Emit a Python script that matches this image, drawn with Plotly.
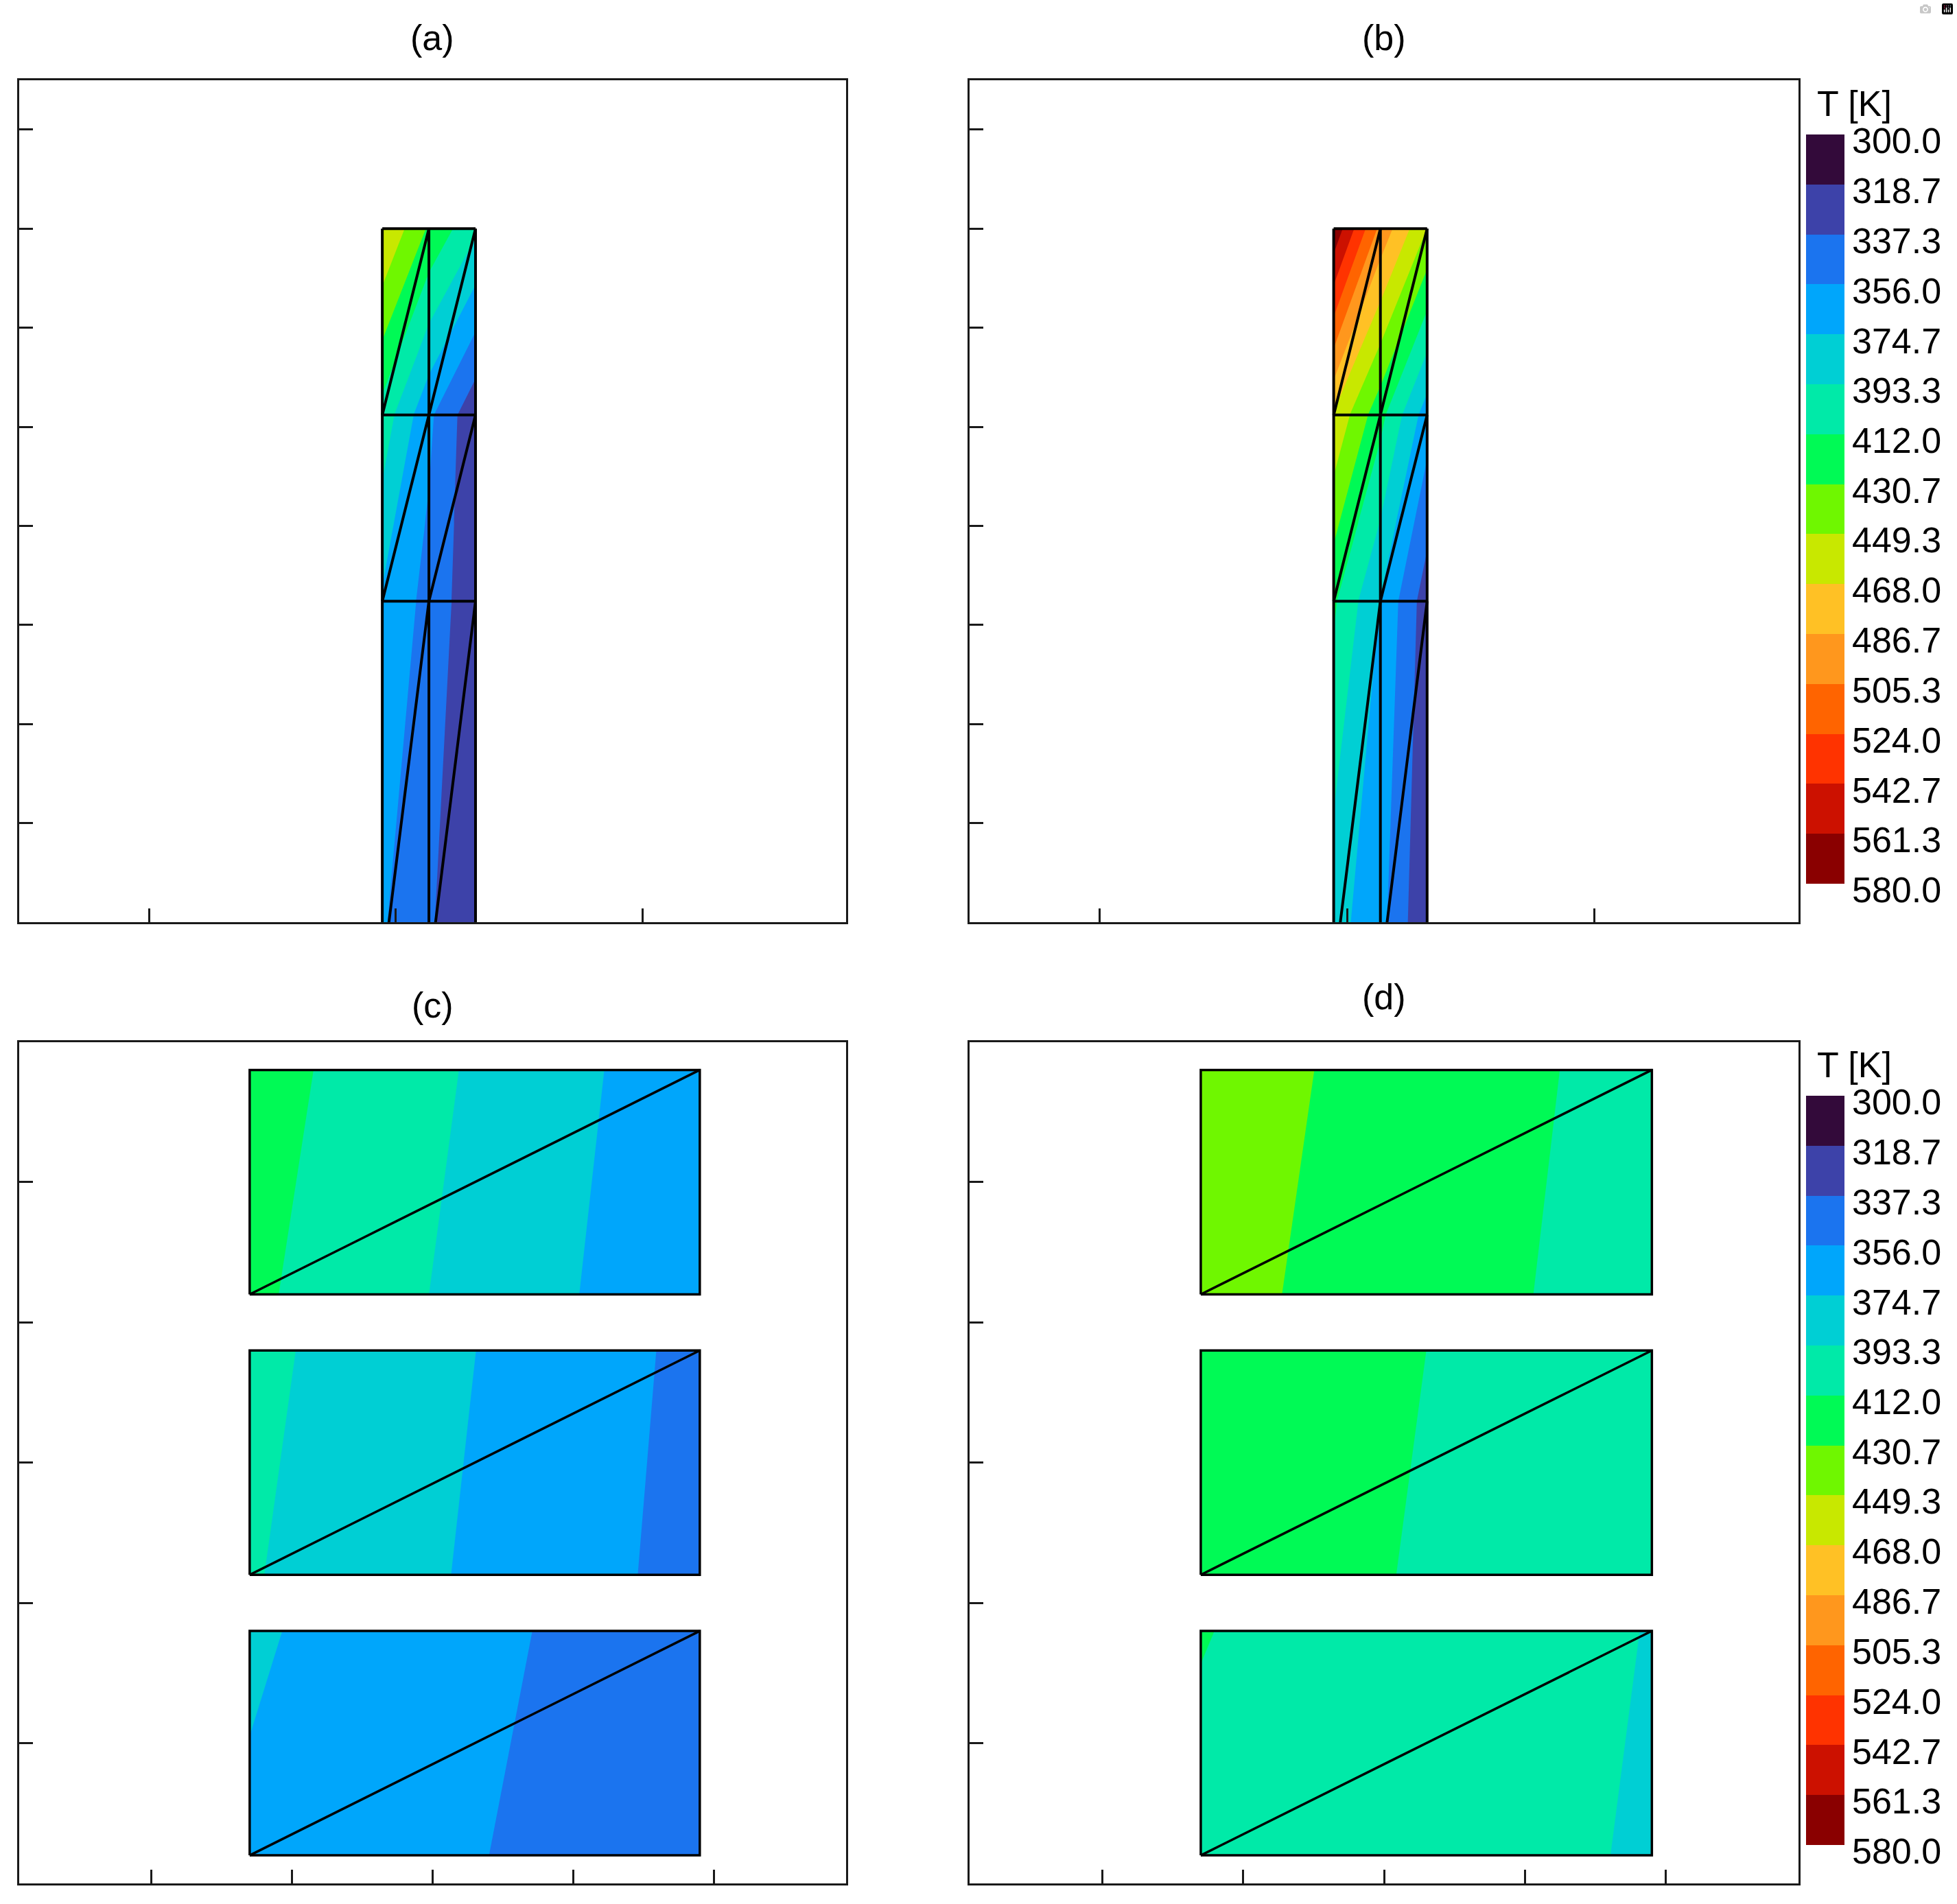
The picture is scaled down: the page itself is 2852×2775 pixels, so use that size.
import plotly.graph_objects as go

# ---------------- data ----------------
level_values = [300.0, 318.7, 337.3, 356.0, 374.7, 393.3, 412.0, 430.7,
                449.3, 468.0, 486.7, 505.3, 524.0, 542.7, 561.3, 580.0]
level_labels = ["300.0", "318.7", "337.3", "356.0", "374.7", "393.3", "412.0", "430.7",
                "449.3", "468.0", "486.7", "505.3", "524.0", "542.7", "561.3", "580.0"]
band_colors = ["#330a3a", "#3d42a9", "#1b74ef", "#00a6fb", "#00cfd4", "#00eaa8",
               "#00fa55", "#6ff700", "#c8e800", "#ffc125", "#ff971d", "#ff6400",
               "#ff3300", "#cc1100", "#8a0000"]
panel_titles = ["(a)", "(b)", "(c)", "(d)"]
cbar_title = "T [K]"

# (a), (b): column mesh (2 x 3 elements), node temperatures [K]
col_x = [1.946, 2.135, 2.324]
elem_y = [-0.54, 3.24, 5.12, 7.0]
field_y = [0.0, 3.24, 5.12, 7.0]
T_a = [[358, 340, 319],
       [372, 350, 324],
       [405, 360, 323],
       [469, 428, 397]]
T_b = [[382, 362, 320],
       [415, 374, 327],
       [466, 418, 365],
       [576, 500, 449]]

# (c), (d): three rectangular layers, corner temperatures [K] (bottom row, top row)
rect_x = [1.7, 4.9]
rect_y = [[0.2, 1.8], [2.2, 3.8], [4.2, 5.8]]
T_c = [[[371.9, 342.0], [377.1, 343.5]],
       [[394.8, 349.8], [398.1, 351.5]],
       [[415.6, 359.7], [420.2, 362.4]]]
T_d = [[[408.5, 391.8], [412.6, 392.8]],
       [[425.0, 395.0], [427.0, 397.0]],
       [[436.7, 403.2], [439.3, 405.0]]]

# ---------------- styling ----------------
FONT = "Liberation Sans, Arial, sans-serif"
T_MIN, T_MAX, N_B = level_values[0], level_values[-1], len(band_colors)
STEP = (T_MAX - T_MIN) / N_B

# contour fill colorscale: band k is sampled by plotly at s = (k+1)/N_B
cs_cont = []
for k, c in enumerate(band_colors):
    lo = 0.0 if k == 0 else (k + 0.5) / N_B
    hi = 1.0 if k == N_B - 1 else (k + 1.5) / N_B
    cs_cont += [[lo, c], [hi, c]]
# colorbar colorscale
cs_bar = []
for k, c in enumerate(band_colors):
    cs_bar += [[k / N_B, c], [(k + 1) / N_B, c]]

contours = dict(start=T_MIN, end=T_MAX + STEP / 2, size=STEP,
                coloring="fill", showlines=False)

fig = go.Figure()


def add_contour(x, y, z, xa, ya):
    fig.add_trace(go.Contour(x=x, y=y, z=z, xaxis=xa, yaxis=ya,
                             autocontour=False, contours=contours,
                             colorscale=cs_cont, zmin=T_MIN, zmax=T_MAX,
                             showscale=False, line=dict(width=0, smoothing=0),
                             hoverinfo="skip"))


def add_lines(xs, ys, xa, ya, w=4):
    fig.add_trace(go.Scatter(x=xs, y=ys, xaxis=xa, yaxis=ya, mode="lines",
                             line=dict(color="black", width=w),
                             hoverinfo="skip", showlegend=False))


def column_mesh(xa, ya):
    xs, ys = [], []
    for x in col_x:
        xs += [x, x, None]
        ys += [elem_y[0], elem_y[-1], None]
    for y in elem_y:
        xs += [col_x[0], col_x[-1], None]
        ys += [y, y, None]
    for i in range(len(elem_y) - 1):
        for j in range(len(col_x) - 1):
            xs += [col_x[j], col_x[j + 1], None]
            ys += [elem_y[i], elem_y[i + 1], None]
    add_lines(xs, ys, xa, ya)


def rect_mesh(xa, ya):
    xs, ys = [], []
    for y0, y1 in rect_y:
        xs += [rect_x[0], rect_x[1], rect_x[1], rect_x[0], rect_x[0], None,
               rect_x[0], rect_x[1], None]
        ys += [y0, y0, y1, y1, y0, None, y0, y1, None]
    add_lines(xs, ys, xa, ya, w=3.5)


# panel (a)
add_contour(col_x, field_y, T_a, "x", "y")
column_mesh("x", "y")
# panel (b)
add_contour(col_x, field_y, T_b, "x2", "y2")
column_mesh("x2", "y2")
# panel (c)
for (yb, zz) in zip(rect_y, T_c):
    add_contour(rect_x, yb, zz, "x3", "y3")
rect_mesh("x3", "y3")
# panel (d)
for (yb, zz) in zip(rect_y, T_d):
    add_contour(rect_x, yb, zz, "x4", "y4")
rect_mesh("x4", "y4")

# colour bars (legend of bands, 300 on top)
mids = [[(level_values[k] + level_values[k + 1]) / 2] for k in range(N_B)]
for xa, ya in (("x5", "y5"), ("x6", "y6")):
    fig.add_trace(go.Heatmap(x=[0, 1], y=level_values, z=mids, xaxis=xa, yaxis=ya,
                             colorscale=cs_bar, zmin=T_MIN, zmax=T_MAX,
                             showscale=False, hoverinfo="skip"))

W, H = 2852, 2775
xl = [27.7 / W, 1233 / W]
xr = [1413 / W, 2621 / W]
yt = [1 - 1344 / H, 1 - 116.7 / H]
yb_ = [1 - 2745 / H, 1 - 1518.5 / H]

frame = dict(showline=True, mirror=True, linecolor="#1a1a1a", linewidth=3,
             ticks="inside", ticklen=20, tickwidth=3, tickcolor="#1a1a1a",
             showticklabels=False, showgrid=False, zeroline=False,
             fixedrange=True, automargin=False, layer="above traces")

top_x = dict(frame, range=[0.4734, 3.826], tickvals=[1, 2, 3])
top_y = dict(frame, range=[0, 8.5], tickvals=[1, 2, 3, 4, 5, 6, 7, 8])
bot_x = dict(frame, range=[0.06, 5.94], tickvals=[1, 2, 3, 4, 5])
bot_y = dict(frame, range=[0, 6], tickvals=[1, 2, 3, 4, 5])

cb_x = dict(range=[0, 1], visible=False, fixedrange=True, automargin=False)
cb_y = dict(range=[T_MAX, T_MIN], side="right", tickvals=level_values,
            ticktext=level_labels, ticks="", showline=False, showgrid=False,
            zeroline=False, tickfont=dict(size=52, color="black", family=FONT),
            ticklabelstandoff=10, ticklabelshift=-9,
            fixedrange=True, automargin=False)

cbx = [2632 / W, 2688 / W]

fig.update_layout(
    width=W, height=H,
    margin=dict(l=0, r=0, t=0, b=0, pad=0, autoexpand=False),
    paper_bgcolor="white", plot_bgcolor="white",
    showlegend=False,
    font=dict(family=FONT, color="black", size=52),
    xaxis=dict(top_x, domain=xl, anchor="y"),
    yaxis=dict(top_y, domain=yt, anchor="x"),
    xaxis2=dict(top_x, domain=xr, anchor="y2"),
    yaxis2=dict(top_y, domain=yt, anchor="x2"),
    xaxis3=dict(bot_x, domain=xl, anchor="y3"),
    yaxis3=dict(bot_y, domain=yb_, anchor="x3"),
    xaxis4=dict(bot_x, domain=xr, anchor="y4"),
    yaxis4=dict(bot_y, domain=yb_, anchor="x4"),
    xaxis5=dict(cb_x, domain=cbx, anchor="y5"),
    yaxis5=dict(cb_y, domain=[1 - 1288 / H, 1 - 196 / H], anchor="x5"),
    xaxis6=dict(cb_x, domain=cbx, anchor="y6"),
    yaxis6=dict(cb_y, domain=[1 - 2689 / H, 1 - 1597 / H], anchor="x6"),
)

title_pos = [((xl[0] + xl[1]) / 2, 1 - 55 / H),
             ((xr[0] + xr[1]) / 2, 1 - 55 / H),
             ((xl[0] + xl[1]) / 2, 1 - 1465 / H),
             ((xr[0] + xr[1]) / 2, 1 - 1453 / H)]
for t, (x, y) in zip(panel_titles, title_pos):
    fig.add_annotation(text=t, x=x, y=y, xref="paper", yref="paper",
                       xanchor="center", yanchor="middle", showarrow=False,
                       font=dict(size=52, color="black", family=FONT))
for y in (1 - 151 / H, 1 - 1552 / H):
    fig.add_annotation(text=cbar_title, x=2702 / W, y=y, xref="paper", yref="paper",
                       xanchor="center", yanchor="middle", showarrow=False,
                       font=dict(size=52, color="black", family=FONT))

fig.write_html("out.html",
               post_script="document.body.style.margin='0';"
                           "document.body.style.overflow='hidden';")
